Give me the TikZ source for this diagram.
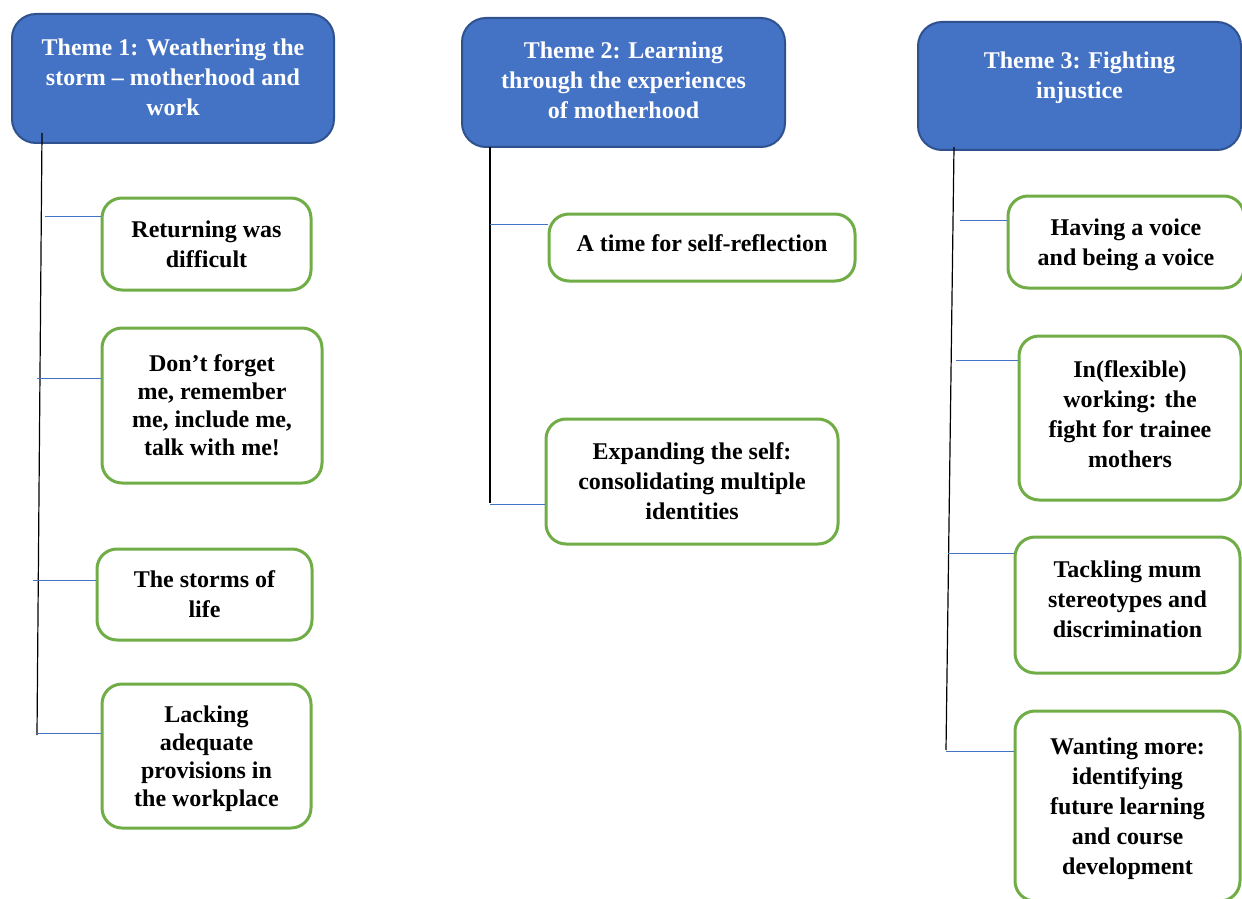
\documentclass[tikz,border=0pt]{standalone}
\usepackage{fontspec}
\setmainfont{Liberation Serif}
\definecolor{hdrblue}{HTML}{4472C4}
\definecolor{hdredge}{HTML}{2F528F}
\definecolor{subgreen}{HTML}{70AD47}
\tikzset{
  theme/.style={rectangle,rounded corners=12pt,draw=hdredge,line width=1pt,fill=hdrblue,
    text=white,font=\fontsize{12pt}{15pt}\selectfont\bfseries,align=center,inner sep=0pt},
  subtheme/.style={rectangle,rounded corners=10pt,draw=subgreen,line width=1.5pt,fill=white,
    font=\fontsize{12pt}{15pt}\selectfont\bfseries,align=center,inner sep=0pt},
  tight/.style={font=\fontsize{12pt}{14pt}\selectfont\bfseries},
  spine/.style={black,line width=0.6pt},
  twig/.style={hdrblue,line width=0.5pt}
}
\begin{document}
\begin{tikzpicture}[x=0.5pt,y=-0.5pt]
\useasboundingbox (0,0) rectangle (1242,899);
\clip (0,0) rectangle (1242,899);
% theme headers
\node [theme,minimum width=161pt,minimum height=64.5pt,text depth=1pt] (t1) at (173,78.5)
  {Theme 1: Weathering the\\storm -- motherhood and\\work};
\node [theme,minimum width=161.5pt,minimum height=64.5pt,text depth=2pt] (t2) at (623.5,82.5)
  {Theme 2: Learning\\through the experiences\\of motherhood};
\node [theme,minimum width=161.5pt,minimum height=64pt,text depth=11pt] (t3) at (1079.5,86)
  {Theme 3: Fighting\\injustice};
% sub-themes of theme 1
\node [subtheme,minimum width=104.5pt,minimum height=46pt] (t1a) at (206.5,244)
  {Returning was\\difficult};
\node [subtheme,tight,minimum width=110pt,minimum height=77.5pt] (t1b) at (212,405.5)
  {Don’t forget\\me, remember\\me, include me,\\talk with me!};
\node [subtheme,minimum width=107.5pt,minimum height=45.5pt] (t1c) at (204.5,594.5)
  {The storms of\\life};
\node [subtheme,tight,minimum width=104.5pt,minimum height=72pt,text depth=-5pt] (t1d) at (206.5,756)
  {Lacking\\adequate\\provisions in\\the workplace};
% sub-themes of theme 2
\node [subtheme,minimum width=153pt,minimum height=33.5pt,text depth=4pt] (t2a) at (702,247.5)
  {A time for self-reflection};
\node [subtheme,minimum width=146pt,minimum height=62.5pt] (t2b) at (692,481.5)
  {Expanding the self:\\consolidating multiple\\identities};
% sub-themes of theme 3
\node [subtheme,minimum width=118pt,minimum height=46pt,text depth=-1pt] (t3a) at (1126,242)
  {Having a voice\\and being a voice};
\node [subtheme,minimum width=111pt,minimum height=82pt,text depth=4pt] (t3b) at (1130,418)
  {In(flexible)\\working: the\\fight for trainee\\mothers};
\node [subtheme,minimum width=112.5pt,minimum height=68pt,text depth=6pt] (t3c) at (1127.5,605)
  {Tackling mum\\stereotypes and\\discrimination};
\node [subtheme,minimum width=112.5pt,minimum height=95pt,text depth=0pt] (t3d) at (1127.5,806)
  {Wanting more:\\identifying\\future learning\\and course\\development};
% spines
\coordinate (s1top) at (42,133);
\coordinate (s1end) at (37,735);
\coordinate (s2top) at (490,147);
\coordinate (s2end) at (490,503);
\coordinate (s3top) at (954,147);
\coordinate (s3end) at (946,750);
\draw [spine] (s1top) -- (s1end);
\draw [spine] (s2top) -- (s2end);
\draw [spine] (s3top) -- (s3end);
% twigs
\coordinate (w1a) at (45,216);
\coordinate (w1b) at (37,378);
\coordinate (w1c) at (33,580);
\coordinate (w1d) at (37,733);
\coordinate (w2a) at (490,224);
\coordinate (w2b) at (490,504);
\coordinate (w3a) at (960,220);
\coordinate (w3b) at (956,360);
\coordinate (w3c) at (948,553);
\coordinate (w3d) at (946,751);
\foreach \w/\b in {w1a/t1a,w1b/t1b,w1c/t1c,w1d/t1d,w2a/t2a,w2b/t2b,w3a/t3a,w3b/t3b,w3c/t3c,w3d/t3d}
  \draw [twig] (\w) -- (\w -| \b.west);
\end{tikzpicture}
\end{document}
